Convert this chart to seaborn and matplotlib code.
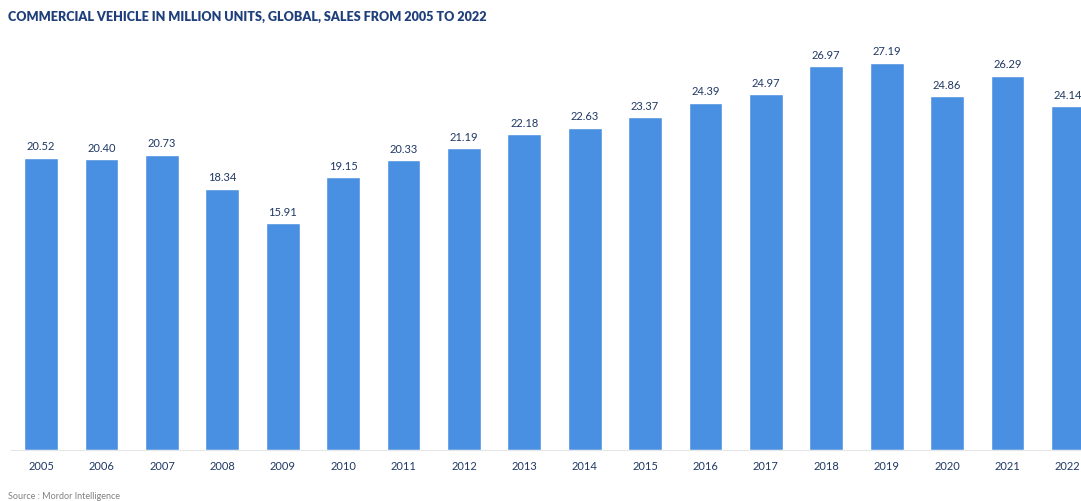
import matplotlib
matplotlib.use("Agg")
import matplotlib.pyplot as plt
import seaborn as sns
import pandas as pd

years = ["2005", "2006", "2007", "2008", "2009", "2010", "2011", "2012", "2013",
         "2014", "2015", "2016", "2017", "2018", "2019", "2020", "2021", "2022"]
sales = [20.52, 20.40, 20.73, 18.34, 15.91, 19.15, 20.33, 21.19, 22.18,
         22.63, 23.37, 24.39, 24.97, 26.97, 27.19, 24.86, 26.29, 24.14]

sns.set_theme(style="white")
plt.rcParams['font.family'] = ['Lato', 'DejaVu Sans']

W, H = 1081, 502
fig = plt.figure(figsize=(W / 100, H / 100), dpi=100)
left_px, right_px, top_px, bottom_px = 11, 1098, 38, 451
ax = fig.add_axes([left_px / W, 1 - bottom_px / H, (right_px - left_px) / W, (bottom_px - top_px) / H])

df = pd.DataFrame({"year": years, "sales": sales})
sns.barplot(data=df, x="year", y="sales", color="#4A90E2", saturation=1, width=0.56, ax=ax)

ax.set_xlim(-0.5, len(years) - 0.5)
ax.set_ylim(0, 29)
for i, v in enumerate(sales):
    ax.text(i, v + 0.45, f"{v:.2f}", ha="center", va="bottom", fontsize=8, color="#1F3864")

ax.set_xlabel("")
ax.set_ylabel("")
ax.set_yticks([])
ax.tick_params(axis="x", length=0, pad=7, labelsize=8, labelcolor="#1F3864")
for s in ["top", "right", "left"]:
    ax.spines[s].set_visible(False)
ax.spines["bottom"].set_color("#E6E6E6")
ax.spines["bottom"].set_linewidth(0.8)

fig.text(8 / W, 1 - 17 / H, "COMMERCIAL VEHICLE IN MILLION UNITS, GLOBAL, SALES FROM 2005 TO 2022",
         ha="left", va="center", fontsize=9.1, fontweight="heavy", color="#1F3F7A")
fig.text(8 / W, 1 - 497 / H, "Source : Mordor Intelligence", ha="left", va="center",
         fontsize=6.5, color="#808080")

fig.savefig("out.png", dpi=100)
